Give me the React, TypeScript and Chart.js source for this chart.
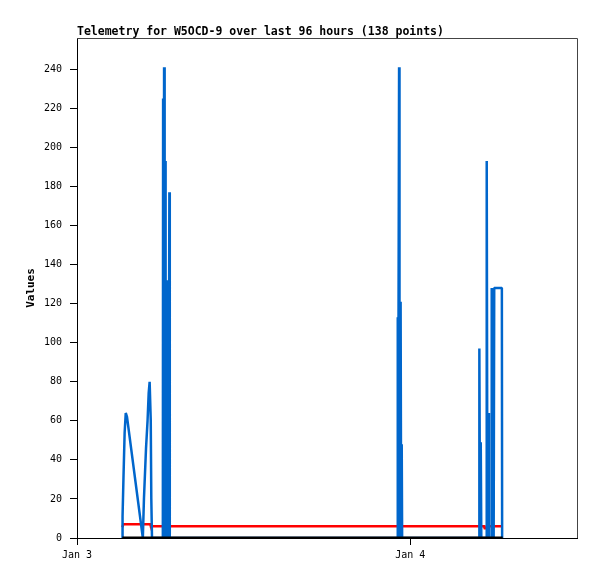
import React, { useEffect, useRef } from 'react';
import { Chart, registerables } from 'chart.js';

Chart.register(...registerables);

const TITLE = 'Telemetry for W5OCD-9 over last 96 hours (138 points)';
const Y_LABEL = 'Values';

// x axis in hours since Jan 3 00:00
const X_MIN = 0;
const X_MAX = 36;
const Y_MIN = 0;
const Y_MAX = 256;
const xTickHours = [0, 24];
const xTickLabels = ['Jan 3', 'Jan 4'];
const yTickValues = [0, 20, 40, 60, 80, 100, 120, 140, 160, 180, 200, 220, 240];

const blueHours = [
  3.26, 3.28, 3.35, 3.43, 3.51, 3.6, 4.74, 4.82, 4.97, 5.08, 5.16, 5.23, 5.31, 5.35, 5.4,
  6.18, 6.2, 6.24, 6.27, 6.31, 6.35, 6.38, 6.42, 6.46, 6.49, 6.54, 6.58, 6.61, 6.65, 6.68, 6.73,
  23.05, 23.08, 23.11, 23.15, 23.19, 23.22, 23.26, 23.3, 23.34, 23.38, 23.41,
  28.96, 28.97, 29.02, 29.07, 29.11, 29.48, 29.5, 29.55, 29.61, 29.66,
  29.84, 29.86, 29.9, 29.93, 29.97, 30.0, 30.04, 30.59, 30.61, 30.65,
];
const blueValues = [
  0, 11, 32, 54, 64, 62, 0, 20, 46, 60, 74, 80, 60, 20, 0,
  0, 225, 0, 241, 0, 193, 0, 44, 44, 0, 132, 0, 60, 177, 0, 0,
  0, 113, 0, 113, 241, 0, 100, 121, 0, 48, 0,
  0, 97, 0, 49, 0, 0, 193, 0, 64, 0,
  0, 128, 0, 64, 16, 0, 128, 128, 0, 0,
];

const redHours = [3.27, 3.33, 5.28, 5.32, 29.3, 29.35, 29.45, 29.5, 30.64];
const redValues = [5.5, 7, 7, 6, 6, 5, 5, 6, 6];

const blackHours = [3.26, 30.65];
const blackValues = [0, 0];

const toPoints = (xs: number[], ys: number[]) => xs.map((x, i) => ({ x, y: ys[i] }));

const MONO = '"DejaVu Sans Mono", "Liberation Mono", monospace';

const framePlugin = {
  id: 'frameAndTitle',
  afterDraw(chart: any) {
    const { ctx, chartArea } = chart;
    ctx.save();
    ctx.strokeStyle = '#444444';
    ctx.lineWidth = 1;
    ctx.beginPath();
    ctx.moveTo(chartArea.left, chartArea.top + 0.5);
    ctx.lineTo(chartArea.right + 0.5, chartArea.top + 0.5);
    ctx.lineTo(chartArea.right + 0.5, chartArea.bottom);
    ctx.stroke();
    ctx.fillStyle = '#000000';
    ctx.font = `bold 11.5px ${MONO}`;
    ctx.textAlign = 'left';
    ctx.textBaseline = 'alphabetic';
    ctx.fillText(TITLE, chartArea.left, 35);
    ctx.restore();
  },
};

export default function App() {
  const ref = useRef<HTMLCanvasElement>(null);
  useEffect(() => {
    document.body.style.margin = '0';
    const canvas = ref.current;
    if (!canvas) return;
    const chart = new Chart(canvas, {
      type: 'line',
      data: {
        datasets: [
          {
            label: 'zero',
            data: toPoints(blackHours, blackValues),
            borderColor: '#000000',
            borderWidth: 3,
            pointRadius: 0,
            tension: 0,
            order: 0,
          },
          {
            label: 'values',
            data: toPoints(blueHours, blueValues),
            borderColor: '#0066CC',
            borderWidth: 2.5,
            borderJoinStyle: 'bevel',
            pointRadius: 0,
            tension: 0,
            order: 1,
          },
          {
            label: 'avg',
            data: toPoints(redHours, redValues),
            borderColor: '#FF0000',
            borderWidth: 2.5,
            pointRadius: 0,
            tension: 0,
            order: 2,
          },
        ],
      },
      options: {
        responsive: false,
        animation: false,
        events: [],
        layout: { padding: { top: 38, right: 20, left: 0, bottom: 0 } },
        plugins: {
          legend: { display: false },
          tooltip: { enabled: false },
          title: { display: false },
        },
        scales: {
          x: {
            type: 'linear',
            min: X_MIN,
            max: X_MAX,
            afterFit: (s: any) => {
              s.height = 41;
            },
            afterBuildTicks: (s: any) => {
              s.ticks = xTickHours.map((v) => ({ value: v }));
            },
            ticks: {
              autoSkip: false,
              maxRotation: 0,
              padding: 4,
              color: '#000000',
              font: { family: MONO, size: 10 },
              callback: (v: any) => {
                const i = xTickHours.indexOf(Number(v));
                return i >= 0 ? xTickLabels[i] : '';
              },
            },
            grid: { display: true, drawOnChartArea: false, drawTicks: true, tickLength: 7, color: '#000000' },
            border: { display: true, color: '#000000', width: 1 },
          },
          y: {
            type: 'linear',
            min: Y_MIN,
            max: Y_MAX,
            afterFit: (s: any) => {
              s.width = 77;
            },
            afterBuildTicks: (s: any) => {
              s.ticks = yTickValues.map((v) => ({ value: v }));
            },
            ticks: {
              autoSkip: false,
              padding: 8,
              color: '#000000',
              font: { family: MONO, size: 10 },
            },
            title: {
              display: true,
              text: Y_LABEL,
              color: '#000000',
              font: { family: MONO, size: 11, weight: 'bold' },
              padding: { top: 25, bottom: 0 },
            },
            grid: { display: true, drawOnChartArea: false, drawTicks: true, tickLength: 7, color: '#000000' },
            border: { display: true, color: '#000000', width: 1 },
          },
        },
      },
      plugins: [framePlugin],
    });
    return () => chart.destroy();
  }, []);
  return <canvas ref={ref} width={597} height={579} style={{ display: 'block' }} />;
}
